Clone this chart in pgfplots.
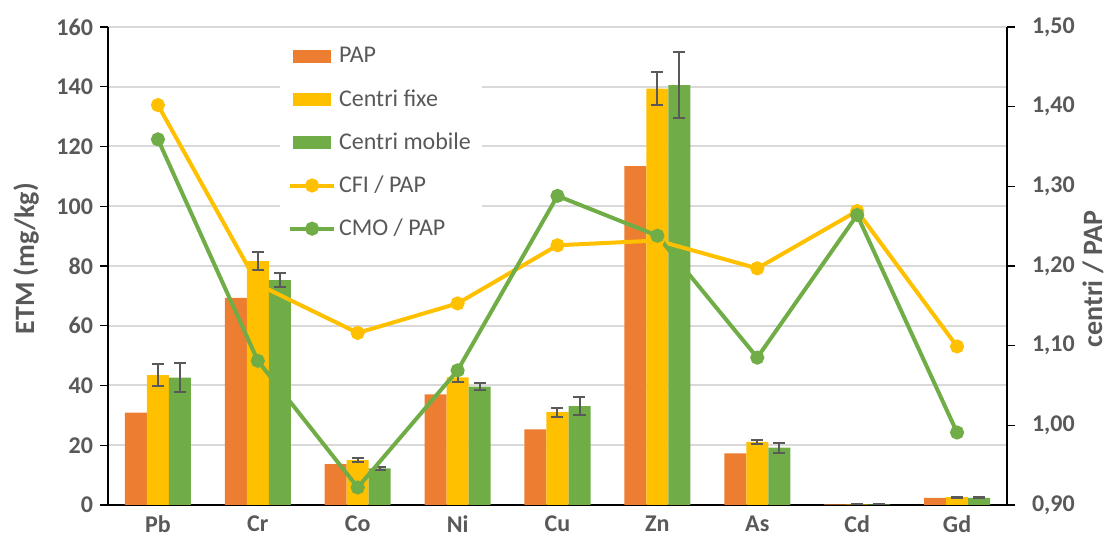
\documentclass[border=0pt]{standalone}
\usepackage{fontspec}
\setmainfont{Carlito}
\usepackage{pgfplots}
\usepackage{pgfplotstable}
\pgfplotsset{compat=1.18}
\definecolor{cPAP}{HTML}{ED7D31}
\definecolor{cFIX}{HTML}{FFC000}
\definecolor{cMOB}{HTML}{70AD47}
\definecolor{txt}{HTML}{595959}
\definecolor{gridc}{HTML}{D9D9D9}

\pgfplotstableread{
x pap fix fixe mob mobe cfi cmo
0 30.9 43.5 3.6 42.6 4.9 1.402 1.359
1 69.3 81.6 3.1 75.3 2.3 1.177 1.081
2 13.7 15.0 0.7 12.3 0.5 1.116 0.922
3 37.0 42.7 1.4 39.6 1.1 1.153 1.069
4 25.3 31.1 1.5 33.1 2.9 1.226 1.288
5 113.4 139.4 5.5 140.5 11.0 1.232 1.238
6 17.3 21.1 0.8 19.2 1.7 1.197 1.085
7 0.2 0.25 0.05 0.25 0.05 1.269 1.264
8 2.4 2.65 0.15 2.4 0.15 1.099 0.991
}\data

\pgfplotsset{
  common/.style={
    width=449.5pt, height=239pt, scale only axis,
    xmin=-0.5, xmax=8.5,
    tick align=outside, major tick length=4pt,
    tick style={black, line width=0.6pt},
    axis line style={-, black, line width=0.8pt},
    tick label style={text=txt, font=\fontsize{12}{14}\selectfont\bfseries},
    label style={text=txt, font=\fontsize{14}{16}\selectfont\bfseries},
  },
  errs/.style={error bars/.cd, y dir=both, y explicit,
    error bar style={line width=1pt, color=txt},
    error mark options={rotate=90, line width=1pt, mark size=3pt, color=txt}},
}

\begin{document}
\begin{tikzpicture}
\begin{axis}[common,
  ybar=0pt, bar width=11pt,
  ymin=0, ymax=160, ytick={0,20,...,160},
  axis y line*=left, axis x line*=bottom,
  ymajorgrids, grid style={gridc, line width=1pt},
  xtick={0,...,8}, xticklabels={Pb,Cr,Co,Ni,Cu,Zn,As,Cd,Gd},
  x tick style={draw=none},
  xticklabel style={yshift=2pt},
  ylabel={ETM (mg/kg)},
  every axis y label/.append style={at={(axis description cs:-0.0912,0.515)}, anchor=center},
  /pgf/number format/assume math mode=true,
]
\addplot[fill=cPAP, draw=none] table[x=x, y=pap]{\data};
\addplot[fill=cFIX, draw=none, errs] table[x=x, y=fix, y error=fixe]{\data};
\addplot[fill=cMOB, draw=none, errs] table[x=x, y=mob, y error=mobe]{\data};
\end{axis}

\begin{axis}[common,
  ymin=0.9, ymax=1.5, ytick={0.9,1.0,1.1,1.2,1.3,1.4,1.5},
  axis y line*=right, axis x line=none,
  ylabel={centri / PAP},
  every axis y label/.append style={at={(axis description cs:1.0955,0.473)}, anchor=center},
  yticklabel style={xshift=5pt, /pgf/number format/.cd, fixed, fixed zerofill, precision=2, use comma, assume math mode=true},
  legend style={at={(axis description cs:0.191,0.983)}, anchor=north west,
    draw=none, fill=white, font=\fontsize{12}{14}\selectfont, text=txt,
    row sep=7.75pt, inner xsep=4pt, inner ysep=4pt, nodes={inner xsep=1.5pt}},
  legend cell align=left,
]
\addlegendimage{fill=cPAP, draw=none, legend image code/.code={\fill (1.5pt,-3.25pt) rectangle (20.5pt,3.25pt);}}
\addlegendentry{PAP}
\addlegendimage{fill=cFIX, draw=none, legend image code/.code={\fill (1.5pt,-3.25pt) rectangle (20.5pt,3.25pt);}}
\addlegendentry{Centri fixe}
\addlegendimage{fill=cMOB, draw=none, legend image code/.code={\fill (1.5pt,-3.25pt) rectangle (20.5pt,3.25pt);}}
\addlegendentry{Centri mobile}
\addplot[cFIX, line width=2pt, mark=*, mark size=2.5pt, mark options={fill=cFIX, draw=cFIX},
  legend image code/.code={\draw[mark repeat=2, mark phase=2] plot coordinates {(0pt,0pt) (11pt,0pt) (22pt,0pt)};}]
  table[x=x, y=cfi]{\data};
\addlegendentry{CFI / PAP}
\addplot[cMOB, line width=2pt, mark=*, mark size=2.5pt, mark options={fill=cMOB, draw=cMOB},
  legend image code/.code={\draw[mark repeat=2, mark phase=2] plot coordinates {(0pt,0pt) (11pt,0pt) (22pt,0pt)};}]
  table[x=x, y=cmo]{\data};
\addlegendentry{CMO / PAP}
\end{axis}
\pgfresetboundingbox
\path[use as bounding box] (-54pt,-20pt) rectangle (502pt,252.5pt);
\end{tikzpicture}
\end{document}
